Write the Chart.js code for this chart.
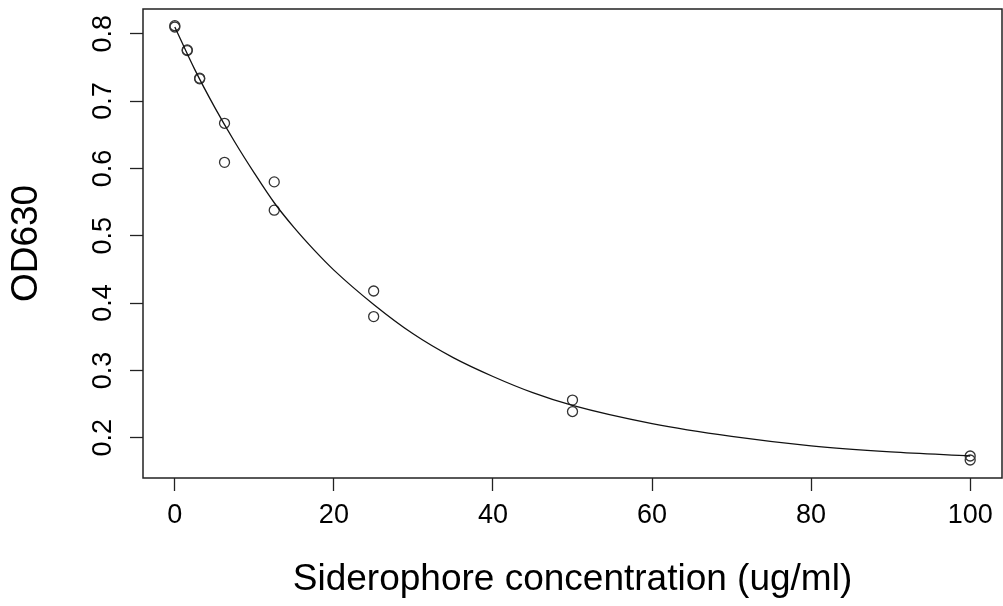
<!DOCTYPE html>
<html>
<head>
<meta charset="utf-8">
<script src="https://cdn.jsdelivr.net/npm/chart.js@4.4.1/dist/chart.umd.min.js"></script>
<style>
  html, body { margin: 0; padding: 0; background: #fff; }
  #wrap { width: 1003px; height: 606px; }
</style>
</head>
<body>
<div id="wrap"><canvas id="grafico"></canvas></div>
<script>
// measured points (concentration, OD630)
var conc = [0, 0, 1.5625, 1.5625, 3.125, 3.125, 6.25, 6.25, 12.5, 12.5, 25, 25, 50, 50, 100, 100]
var od = [0.812, 0.810, 0.776, 0.775, 0.734, 0.733, 0.667, 0.609, 0.580, 0.538, 0.418, 0.380, 0.256, 0.239, 0.173, 0.167]

// fitted curve
var curva_x = [0, 2.5, 5, 7.5, 10, 12.5, 15, 17.5, 20, 25, 30, 35, 40, 45, 50, 60, 70, 80, 90, 100]
var curva_y = [0.810, 0.747, 0.691, 0.640, 0.593, 0.549, 0.512, 0.479, 0.449, 0.398, 0.354, 0.319, 0.291, 0.267, 0.248, 0.221, 0.202, 0.188, 0.179, 0.173]

var ticks_x = [0, 20, 40, 60, 80, 100]
var ticks_y = [0.2, 0.3, 0.4, 0.5, 0.6, 0.7, 0.8]

var cor_linha = '#222'

function monta_pontos(xs, ys){
    var pts = []
    for(let i = 0; i < xs.length; i++){
        pts.push({x: xs[i], y: ys[i]})
    }
    return pts
}

function zera_padding(scale){
    scale.paddingLeft = 0
    scale.paddingRight = 0
    scale.paddingTop = 0
    scale.paddingBottom = 0
}

// box around the plot region, like R's box()
const caixa = {
    id: 'caixa',
    afterDraw(chart){
        const a = chart.chartArea
        const ctx = chart.ctx
        ctx.save()
        ctx.strokeStyle = cor_linha
        ctx.lineWidth = 1.5
        ctx.strokeRect(a.left, a.top, a.right - a.left, a.bottom - a.top)
        ctx.restore()
    }
}

const ctx = document.getElementById('grafico').getContext('2d');
const myChart = new Chart(ctx, {
    type: 'scatter',
    data: {
        datasets: [{
            label: 'ajuste',
            type: 'line',
            data: monta_pontos(curva_x, curva_y),
            borderColor: '#111',
            borderWidth: 1.3,
            pointRadius: 0,
            cubicInterpolationMode: 'monotone',
            fill: false
        }, {
            label: 'OD630',
            data: monta_pontos(conc, od),
            pointStyle: 'circle',
            pointRadius: 5,
            borderWidth: 1.3,
            borderColor: '#333',
            backgroundColor: 'rgba(0,0,0,0)'
        }]
    },
    options: {
        responsive: true,
        maintainAspectRatio: false,
        animation: false,
        layout: { autoPadding: false, padding: { top: 9, right: 1, left: 0, bottom: 0 } },
        plugins: {
            legend: { display: false },
            tooltip: { enabled: false }
        },
        scales: {
            x: {
                type: 'linear',
                min: -4,
                max: 104,
                afterBuildTicks: function(scale){
                    scale.ticks = ticks_x.map(v => ({value: v}))
                },
                afterFit: function(scale){
                    scale.height = 128
                    zera_padding(scale)
                },
                grid: { drawOnChartArea: false, tickLength: 13, color: cor_linha, tickWidth: 1.3 },
                border: { display: false },
                ticks: { color: '#000', font: { family: 'Liberation Sans', size: 27 }, padding: 8, maxRotation: 0 },
                title: {
                    display: true,
                    text: 'Siderophore concentration (ug/ml)',
                    color: '#000',
                    font: { family: 'Liberation Sans', size: 37 },
                    padding: { top: 0, bottom: 4 }
                }
            },
            y: {
                type: 'linear',
                min: 0.1403,
                max: 0.8367,
                afterBuildTicks: function(scale){
                    scale.ticks = ticks_y.map(v => ({value: v}))
                },
                afterFit: function(scale){
                    scale.width = 143
                    zera_padding(scale)
                },
                grid: { drawOnChartArea: false, tickLength: 13, color: cor_linha, tickWidth: 1.3 },
                border: { display: false },
                ticks: {
                    color: '#000',
                    font: { family: 'Liberation Sans', size: 27 },
                    padding: 8,
                    minRotation: 90,
                    maxRotation: 90,
                    crossAlign: 'center',
                    callback: function(v){ return v.toFixed(1) }
                },
                title: {
                    display: true,
                    text: 'OD630',
                    color: '#000',
                    font: { family: 'Liberation Sans', size: 37 },
                    padding: { top: 5, bottom: 0 }
                }
            }
        }
    },
    plugins: [caixa]
});
</script>
</body>
</html>
